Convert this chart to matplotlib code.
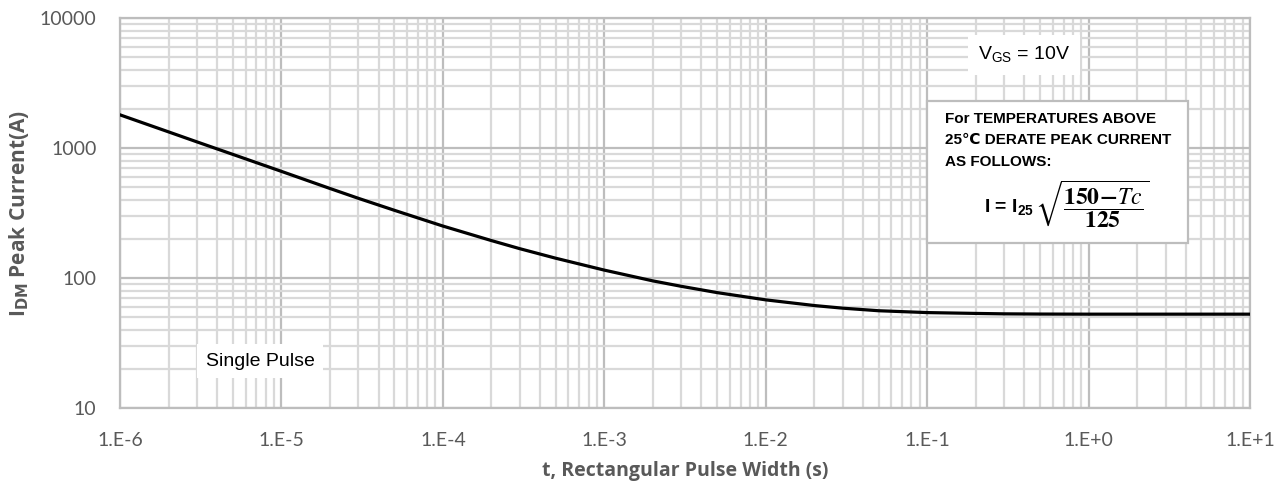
import numpy as np
import matplotlib
matplotlib.use("Agg")
import matplotlib.pyplot as plt
from matplotlib.ticker import LogLocator, FixedLocator, FixedFormatter, NullFormatter

# pulse width (s) and peak current (A)
t_pulse = [1e-6, 2e-6, 3e-6, 5e-6, 1e-5, 2e-5, 3e-5, 5e-5, 1e-4, 2e-4, 3e-4, 5e-4,
           1e-3, 2e-3, 3e-3, 5e-3, 1e-2, 2e-2, 3e-2, 5e-2, 1e-1, 2e-1, 3e-1, 5e-1,
           1e0, 1e1]
i_peak = [1799, 1330, 1114, 893, 661, 488, 410, 332, 251, 194, 168, 142,
          115, 95, 86.3, 77.2, 67.9, 61.4, 58.6, 56.0, 54.2, 53.4, 53.0, 52.8,
          52.7, 52.7]

x_ticks = [1e-6, 1e-5, 1e-4, 1e-3, 1e-2, 1e-1, 1e0, 1e1]
x_labels = ["1.E-6", "1.E-5", "1.E-4", "1.E-3", "1.E-2", "1.E-1", "1.E+0", "1.E+1"]
y_ticks = [10, 100, 1000, 10000]
y_labels = ["10", "100", "1000", "10000"]

tick_col = "#595959"

fig = plt.figure(figsize=(12.85, 4.84), dpi=100)
ax = fig.add_axes([120 / 1285, 76 / 484, 1130 / 1285, 390 / 484])

ax.plot(t_pulse, i_peak, color="black", lw=2.3, solid_joinstyle="round", zorder=3)

ax.set_xscale("log")
ax.set_yscale("log")
ax.set_xlim(1e-6, 1e1)
ax.set_ylim(10, 10000)

ax.xaxis.set_major_locator(FixedLocator(x_ticks))
ax.xaxis.set_major_formatter(FixedFormatter(x_labels))
ax.yaxis.set_major_locator(FixedLocator(y_ticks))
ax.yaxis.set_major_formatter(FixedFormatter(y_labels))
ax.xaxis.set_minor_locator(LogLocator(base=10, subs=np.arange(2, 10), numticks=20))
ax.yaxis.set_minor_locator(LogLocator(base=10, subs=np.arange(2, 10), numticks=20))
ax.xaxis.set_minor_formatter(NullFormatter())
ax.yaxis.set_minor_formatter(NullFormatter())

ax.grid(which="minor", color="#d9d9d9", lw=1.6, zorder=0)
ax.grid(which="major", color="#bdbdbd", lw=1.6, zorder=1)
ax.set_axisbelow(True)
ax.tick_params(which="both", length=0, labelsize=14, labelcolor=tick_col)
ax.tick_params(axis="x", pad=17)
ax.tick_params(axis="y", pad=17)
for lab in ax.get_xticklabels() + ax.get_yticklabels():
    lab.set_family("Lato")
for s in ax.spines.values():
    s.set_color("#bdbdbd")
    s.set_linewidth(1.6)

ax.set_xlabel("t, Rectangular Pulse Width (s)", fontsize=14, fontweight="bold",
              color=tick_col, family="Open Sans", labelpad=9)
ax.set_ylabel(r"I$\mathbf{_{DM}}$ Peak Current(A)", fontsize=15, fontweight="bold",
              color=tick_col, family="Open Sans", labelpad=6)

# annotations
ax.text(0.8, 0.905, r"V$_{\mathregular{GS}}$ = 10V", transform=ax.transAxes,
        fontsize=14, family="Liberation Sans", ha="center", va="center", zorder=5,
        bbox=dict(boxstyle="square,pad=0.5", fc="white", ec="none"))
ax.text(0.124, 0.12, "Single Pulse", transform=ax.transAxes,
        fontsize=14, family="Liberation Sans", ha="center", va="center", zorder=5,
        bbox=dict(boxstyle="square,pad=0.45", fc="white", ec="none"))

# derating box
box_x0, box_x1 = (927 - 120) / 1130, (1188 - 120) / 1130
box_y0, box_y1 = (408 - 243) / 390, (408 - 101) / 390
ax.add_patch(plt.Rectangle((box_x0, box_y0), box_x1 - box_x0, box_y1 - box_y0,
                           transform=ax.transAxes, fc="white", ec="#bdbdbd",
                           lw=1.6, zorder=5))
ax.text(box_x0 + 0.016, box_y1 - 0.027,
        "For TEMPERATURES ABOVE\n25\u2103 DERATE PEAK CURRENT\nAS FOLLOWS:",
        transform=ax.transAxes, fontsize=11, fontweight="bold",
        family=["Liberation Sans", "DejaVu Sans"], ha="left", va="top",
        linespacing=1.72, zorder=6)
ax.text(0.765, 0.513, r"I = I$_{\mathregular{25}}$", transform=ax.transAxes,
        fontsize=14, fontweight="bold", family="Liberation Sans",
        ha="left", va="center", zorder=6)
ax.text(0.810, 0.52, r"$\sqrt{\dfrac{\mathbf{150\!-\!}\mathbf{\mathit{Tc}}}{\mathbf{125}}}$",
        transform=ax.transAxes, fontsize=17, math_fontfamily="stix",
        ha="left", va="center", zorder=6)

fig.savefig("out.png", dpi=100)
plt.close(fig)
